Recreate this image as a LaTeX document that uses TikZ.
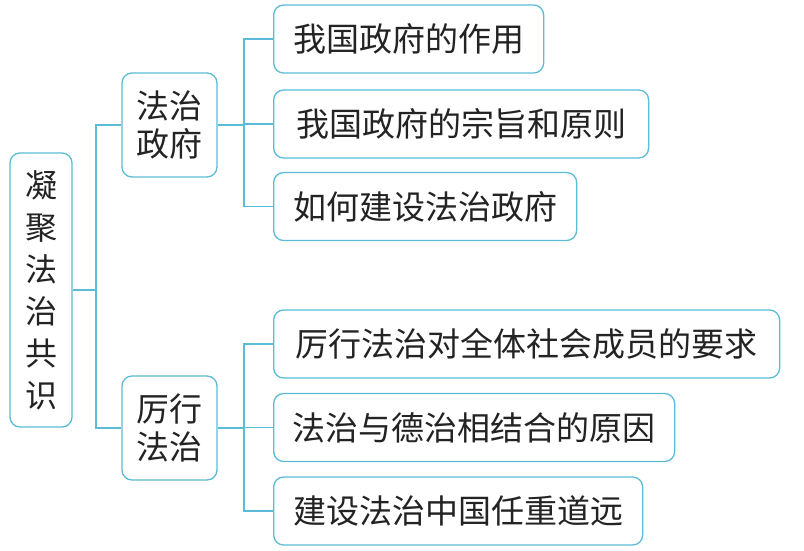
\documentclass[tikz,border=0pt]{standalone}
\usepackage{fontspec}
\setmainfont{Noto Sans CJK SC}
\definecolor{bord}{RGB}{90,188,215}
\definecolor{txt}{RGB}{35,35,35}
\begin{document}
\begin{tikzpicture}[x=1pt,y=-1pt,
  box/.style={draw=bord,line width=1.3pt,rounded corners=10pt,text=txt,inner sep=0pt,align=center},
  leaf/.style={box,minimum height=68pt,font=\fontsize{33}{40}\selectfont,anchor=west},
  mid/.style={box,minimum width=95pt,minimum height=104pt,font=\fontsize{33}{38}\selectfont},
  conn/.style={draw=bord,line width=1.3pt}]
\useasboundingbox[fill=white] (0,0) rectangle (804,550);
\node[box,minimum width=62pt,minimum height=274pt,font=\fontsize{32}{42}\selectfont] (root) at (41,290) {凝\\聚\\法\\治\\共\\识};
\node[mid] (m1) at (169.5,125) {法治\\政府};
\node[mid] (m2) at (169.5,428) {厉行\\法治};
\node[leaf,minimum width=270pt] (l1) at (273,39) {我国政府的作用};
\node[leaf,minimum width=375pt] (l2) at (273,124) {我国政府的宗旨和原则};
\node[leaf,minimum width=303pt] (l3) at (273,206.5) {如何建设法治政府};
\node[leaf,minimum width=506pt] (l4) at (273,344) {厉行法治对全体社会成员的要求};
\node[leaf,minimum width=401pt] (l5) at (273,427.5) {法治与德治相结合的原因};
\node[leaf,minimum width=369pt] (l6) at (273,511) {建设法治中国任重道远};
\coordinate (r1) at (96,0);
\coordinate (b1) at (244,0);
\draw[conn] (root.east) -- (root.east -| r1);
\draw[conn] (m1.west) -| (r1 |- m2.west) -- (m2.west);
\draw[conn] (m1.east) -- (m1.east -| b1);
\draw[conn] (l1.west) -| (b1 |- l3.west) -- (l3.west);
\draw[conn] (l2.west) -- (l2.west -| b1);
\draw[conn] (m2.east) -- (m2.east -| b1);
\draw[conn] (l4.west) -| (b1 |- l6.west) -- (l6.west);
\draw[conn] (l5.west) -- (l5.west -| b1);
\end{tikzpicture}
\end{document}
